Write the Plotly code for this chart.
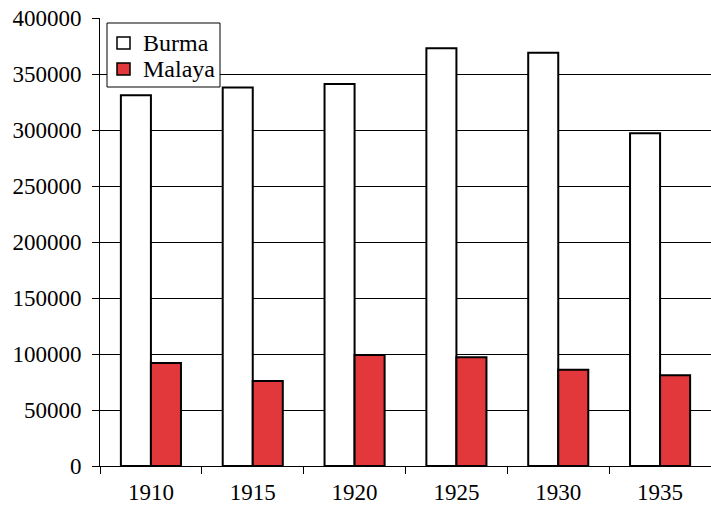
import plotly.graph_objects as go

years = ["1910", "1915", "1920", "1925", "1930", "1935"]
burma = [331000, 338000, 341000, 373000, 369000, 297000]
malaya = [92000, 76000, 99000, 97000, 86000, 81000]
y_ticks = [0, 50000, 100000, 150000, 200000, 250000, 300000, 350000, 400000]
series_names = ["Burma", "Malaya"]
series_colors = ["white", "#E2373B"]

font_family = "Times New Roman, Liberation Serif, serif"
W, H = 711, 506
ML, MR, MT, MB = 100, 0, 18, 40
PW, PH = W - ML - MR, H - MT - MB


def px(xp):
    return (xp - ML) / PW


def py(yp):
    return (H - MB - yp) / PH


fig = go.Figure()
for name, vals, col in zip(series_names, [burma, malaya], series_colors):
    fig.add_trace(go.Bar(
        name=name, x=years, y=vals,
        marker=dict(color=col, line=dict(color="black", width=2)),
    ))

# legend box drawn to match the reference's compact legend
shapes = [dict(type="rect", xref="paper", yref="paper", layer="above",
               x0=px(107), x1=px(220), y0=py(87), y1=py(23),
               fillcolor="white", line=dict(color="black", width=1))]
annotations = []
row_y = [43, 69]
for name, col, yc in zip(series_names, series_colors, row_y):
    shapes.append(dict(type="rect", xref="paper", yref="paper", layer="above",
                       x0=px(117), x1=px(130), y0=py(yc + 6), y1=py(yc - 6),
                       fillcolor=col, line=dict(color="black", width=1.5)))
    annotations.append(dict(xref="paper", yref="paper", x=px(141), y=py(yc),
                            xanchor="left", yanchor="middle", text=name,
                            showarrow=False,
                            font=dict(family=font_family, size=24, color="black")))

fig.update_layout(
    width=W, height=H,
    margin=dict(l=ML, r=MR, t=MT, b=MB, autoexpand=False),
    paper_bgcolor="white", plot_bgcolor="white",
    barmode="group", bargap=0.41, bargroupgap=0,
    font=dict(family=font_family, size=23, color="black"),
    showlegend=False,
    shapes=shapes, annotations=annotations,
)
fig.update_xaxes(
    type="category", showline=True, linecolor="black", linewidth=1,
    ticks="outside", ticklen=7, tickcolor="black", tickson="boundaries",
    ticklabelstandoff=5,
    showgrid=False, tickfont=dict(family=font_family, size=23), automargin=False,
)
fig.update_yaxes(
    range=[0, 400000], tickvals=y_ticks, ticktext=[str(v) for v in y_ticks],
    showline=True, linecolor="black", linewidth=1,
    ticks="outside", ticklen=7, tickcolor="black", ticklabelstandoff=6,
    ticklabeloverflow="allow",
    showgrid=True, gridcolor="black", gridwidth=1,
    zeroline=False, tickfont=dict(family=font_family, size=23), automargin=False,
)

fig.write_html("out.html", config={"displayModeBar": False},
               post_script="document.body.style.margin='0';")
